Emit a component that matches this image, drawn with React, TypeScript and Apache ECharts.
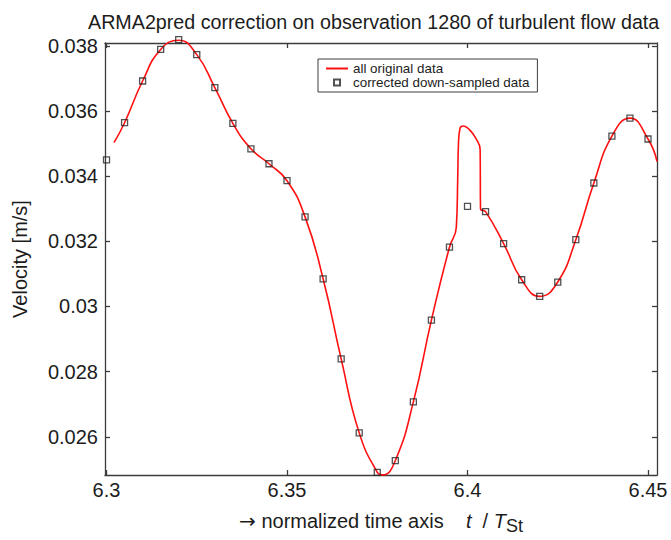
import { useEffect, useRef } from 'react';
import * as echarts from 'echarts';

// Dense record ("all original data")
const curveT = [
  6.30208, 6.305, 6.31, 6.315, 6.32, 6.325, 6.33, 6.335, 6.34, 6.345, 6.35,
  6.355, 6.36, 6.365, 6.37, 6.375, 6.3765, 6.38, 6.385, 6.39, 6.395,
  6.3969, 6.3973, 6.3975, 6.3979, 6.3988, 6.4006, 6.4025, 6.4035, 6.4036,
  6.405, 6.41, 6.415, 6.42, 6.425, 6.43, 6.435, 6.44, 6.445, 6.45, 6.4525,
];
const curveV = [
  0.03503, 0.03564, 0.03692, 0.03789, 0.03817, 0.03773, 0.03672, 0.03562, 0.03484, 0.03438, 0.03386,
  0.03275, 0.03085, 0.02839, 0.02612, 0.02491, 0.02483, 0.02527, 0.02707, 0.02958, 0.03182,
  0.03243, 0.0340, 0.0350, 0.03546, 0.03554, 0.03542, 0.03512, 0.03481, 0.0330,
  0.03291, 0.03193, 0.03082, 0.03031, 0.03075, 0.03205, 0.03379, 0.03523, 0.03578, 0.03514, 0.03445,
];

// Corrected down-sampled data (squares)
const sampleT = [
  6.3, 6.305, 6.31, 6.315, 6.32, 6.325, 6.33, 6.335, 6.34, 6.345, 6.35,
  6.355, 6.36, 6.365, 6.37, 6.375, 6.38, 6.385, 6.39, 6.395, 6.4,
  6.405, 6.41, 6.415, 6.42, 6.425, 6.43, 6.435, 6.44, 6.445, 6.45,
];
const sampleV = [
  0.0345, 0.03564, 0.03692, 0.03789, 0.03819, 0.03773, 0.03672, 0.03562, 0.03484, 0.03438, 0.03386,
  0.03275, 0.03085, 0.02839, 0.02612, 0.02491, 0.02527, 0.02707, 0.02958, 0.03182, 0.03307,
  0.03291, 0.03193, 0.03082, 0.03031, 0.03075, 0.03205, 0.03379, 0.03523, 0.03578, 0.03514,
];

const xTicks = [6.3, 6.35, 6.4, 6.45];
const yTicks = [0.026, 0.028, 0.03, 0.032, 0.034, 0.036, 0.038];

export default function App() {
  const ref = useRef<HTMLDivElement>(null);
  useEffect(() => {
    document.body.style.margin = '0';
    const chart = echarts.init(ref.current!, null, { renderer: 'svg' });
    const font = "'Liberation Sans', Arial, Helvetica, sans-serif";
    const ink = '#1c1c1c';
    const axisColor = '#3c3c3c';
    const xMin = 6.29958, xMax = 6.45249, yMin = 0.024827, yMax = 0.038087;
    const fmtX = (v: any) => String(+(+v).toFixed(2));
    const fmtY = (v: any) => String(+(+v).toFixed(3));
    const line = { color: axisColor, width: 1.3 };
    const baseX = {
      type: 'value', min: xMin, max: xMax,
      splitLine: { show: false },
      axisLine: { show: true, onZero: false, lineStyle: line },
    };
    const baseY = {
      type: 'value', min: yMin, max: yMax,
      splitLine: { show: false },
      axisLine: { show: true, onZero: false, lineStyle: line },
    };
    chart.setOption({
      animation: false,
      backgroundColor: '#ffffff',
      textStyle: { fontFamily: font },
      title: {
        text: 'ARMA2pred correction on observation 1280 of turbulent flow data',
        left: 83,
        top: 7,
        textStyle: { fontSize: 19.7, fontWeight: 'normal', color: ink, fontFamily: font },
      },
      grid: { left: 105, right: 14, top: 43, bottom: 63, containLabel: false },
      legend: {
        orient: 'vertical',
        left: 318,
        top: 59,
        padding: [3, 8, 3, 7],
        borderColor: axisColor,
        borderWidth: 1,
        itemGap: 1,
        itemWidth: 22,
        itemHeight: 6,
        textStyle: { fontSize: 13.4, color: ink, fontFamily: font },
        data: [
          { name: 'all original data' },
          { name: 'corrected down-sampled data', icon: 'path://M0,0H10V10H0Z' },
        ],
      },
      xAxis: [
        {
          ...baseX,
          position: 'bottom',
          axisTick: { show: true, inside: true, length: 5, customValues: xTicks, lineStyle: line },
          axisLabel: { show: true, customValues: xTicks, formatter: fmtX, fontSize: 20, color: ink, margin: 5, fontFamily: font },
          name: '{a|→} normalized time axis    {i|t}  / {i|T}{s|St}',
          nameLocation: 'middle',
          nameGap: 32,
          nameTextStyle: {
            fontSize: 20, color: ink, fontFamily: font, lineHeight: 28,
            rich: {
              a: { fontSize: 20, lineHeight: 28, color: ink, fontFamily: "'DejaVu Sans', sans-serif" },
              i: { fontStyle: 'italic', fontSize: 20, lineHeight: 28, color: ink, fontFamily: font },
              s: { fontSize: 18, lineHeight: 18, verticalAlign: 'bottom', color: ink, fontFamily: font },
            },
          },
        },
        {
          ...baseX,
          position: 'top',
          axisTick: { show: true, inside: true, length: 5, customValues: xTicks, lineStyle: line },
          axisLabel: { show: false },
        },
      ],
      yAxis: [
        {
          ...baseY,
          position: 'left',
          axisTick: { show: true, inside: true, length: 5, customValues: yTicks, lineStyle: line },
          axisLabel: { show: true, customValues: yTicks, formatter: fmtY, fontSize: 20, color: ink, margin: 7, fontFamily: font },
          name: 'Velocity [m/s]',
          nameLocation: 'middle',
          nameGap: 75,
          nameTextStyle: { fontSize: 20, color: ink, fontFamily: font },
        },
        {
          ...baseY,
          position: 'right',
          axisTick: { show: true, inside: true, length: 5, customValues: yTicks, lineStyle: line },
          axisLabel: { show: false },
        },
      ],
      series: [
        {
          name: 'all original data',
          type: 'line',
          data: curveT.map((t, i) => [t, curveV[i]]),
          symbol: 'none',
          smooth: 0.5,
          clip: false,
          lineStyle: { color: '#ff1010', width: 1.6 },
          itemStyle: { color: 'rgba(0,0,0,0)' },
          z: 2,
        },
        {
          name: 'corrected down-sampled data',
          type: 'scatter',
          data: sampleT.map((t, i) => [t, sampleV[i]]),
          symbol: 'rect',
          symbolSize: 6,
          clip: false,
          itemStyle: { color: 'rgba(0,0,0,0)', borderColor: '#262626', borderWidth: 1.3 },
          z: 3,
        },
      ],
    });
    return () => chart.dispose();
  }, []);
  return (
    <div
      ref={ref}
      style={{ position: 'fixed', left: 0, top: 0, width: 671, height: 540, background: '#fff' }}
    />
  );
}
